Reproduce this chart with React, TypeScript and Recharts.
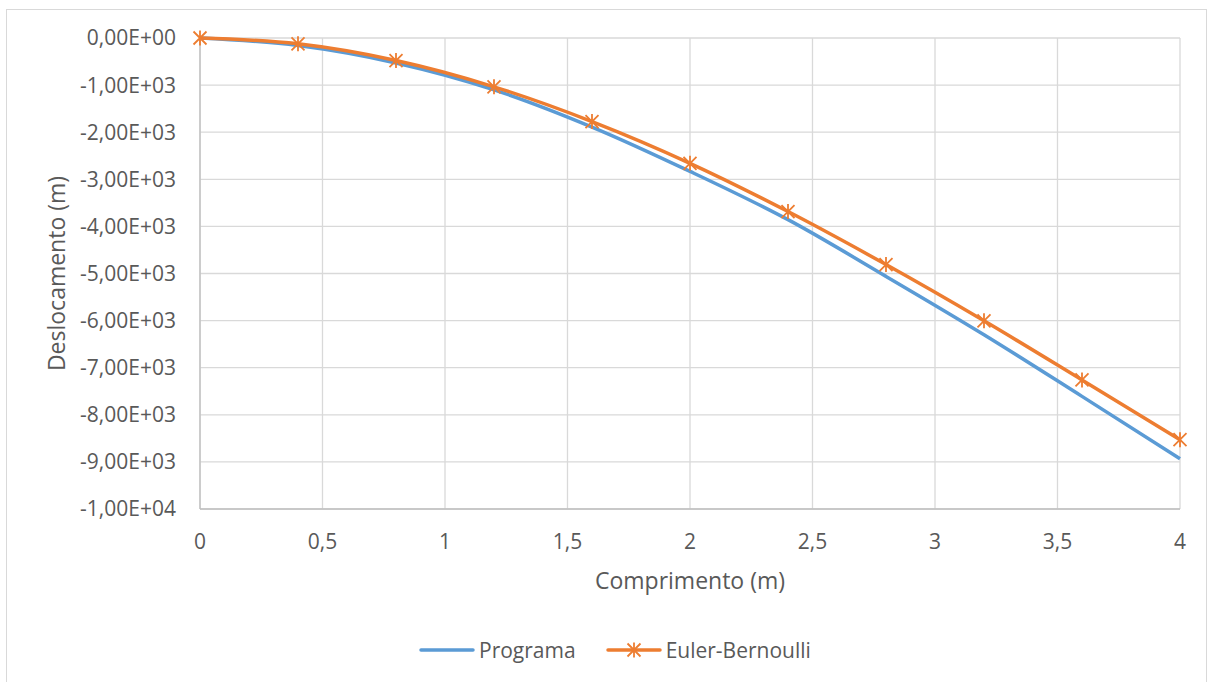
import { LineChart, Line, XAxis, YAxis, CartesianGrid } from 'recharts'

const comprimento = [0, 0.4, 0.8, 1.2, 1.6, 2.0, 2.4, 2.8, 3.2, 3.6, 4.0]
const programa = [0, -160, -530, -1100, -1890, -2832, -3857, -5061, -6300, -7609, -8932]
const eulerBernoulli = [0, -124, -478, -1036, -1774, -2660, -3685, -4810, -6004, -7260, -8529]

const xTicks = [0, 0.5, 1, 1.5, 2, 2.5, 3, 3.5, 4]
const yTicks = [0, -1000, -2000, -3000, -4000, -5000, -6000, -7000, -8000, -9000, -10000]

const BLUE = '#5B9BD5'
const ORANGE = '#ED7D31'
const TEXT = '#595959'
const FONT = '"Open Sans", sans-serif'

const data = comprimento.map((x, i) => ({
  x,
  programa: programa[i],
  euler: eulerBernoulli[i],
}))

function sciLabel(v: number) {
  const [mant, exp] = v.toExponential(2).split('e')
  const e = Number(exp)
  const sign = e < 0 ? '-' : '+'
  return `${mant.replace('.', ',')}E${sign}${String(Math.abs(e)).padStart(2, '0')}`
}

function StarDot(props: any) {
  const { cx, cy } = props
  if (cx == null || cy == null) return null
  const r = 6.5
  return (
    <path
      d={`M${cx - r},${cy - r}L${cx + r},${cy + r}M${cx + r},${cy - r}L${cx - r},${cy + r}M${cx},${cy - r - 1}L${cx},${cy + r + 1}`}
      stroke={ORANGE}
      strokeWidth={1.8}
      fill="none"
    />
  )
}

function LegendItem({ color, label, star }: { color: string; label: string; star?: boolean }) {
  return (
    <div style={{ display: 'flex', alignItems: 'center' }}>
      <svg width={56} height={16} style={{ marginRight: 4 }}>
        <line x1={2} y1={8} x2={54} y2={8} stroke={color} strokeWidth={3.5} strokeLinecap="round" />
        {star && <StarDot cx={28} cy={8} />}
      </svg>
      <span>{label}</span>
    </div>
  )
}

export default function App() {
  return (
    <div style={{ position: 'absolute', left: 0, top: 0, width: 1214, height: 682, background: '#fff', fontFamily: FONT }}>
      <div
        style={{
          position: 'absolute',
          left: 6,
          top: 9,
          width: 1201,
          height: 690,
          border: '1px solid #d9d9d9',
          boxSizing: 'border-box',
        }}
      />
      <div style={{ position: 'absolute', left: 0, top: 0 }}>
        <LineChart width={1214} height={610} data={data} margin={{ top: 38, right: 34, left: 0, bottom: 11 }}>
          <CartesianGrid stroke="#d9d9d9" strokeWidth={1.3} />
          <XAxis
            dataKey="x"
            type="number"
            domain={[0, 4]}
            ticks={xTicks}
            tickFormatter={(v: number) => String(v).replace('.', ',')}
            height={90}
            tickLine={false}
            tickSize={0}
            tickMargin={25}
            axisLine={{ stroke: '#bfbfbf', strokeWidth: 1.3 }}
            tick={{ fill: TEXT, fontSize: 21, fontFamily: FONT }}
            label={{ value: 'Comprimento (m)', position: 'insideBottom', offset: 10, fill: TEXT, fontSize: 23, fontFamily: FONT }}
          />
          <YAxis
            type="number"
            domain={[-10000, 0]}
            ticks={yTicks}
            tickFormatter={sciLabel}
            width={200}
            tickLine={false}
            tickSize={0}
            tickMargin={24}
            axisLine={{ stroke: '#bfbfbf', strokeWidth: 1.3 }}
            tick={{ fill: TEXT, fontSize: 21, fontFamily: FONT }}
            label={{ value: 'Deslocamento (m)', angle: -90, position: 'center', dx: -43, fill: TEXT, fontSize: 23, fontFamily: FONT }}
          />
          <Line
            type="monotone"
            dataKey="programa"
            stroke={BLUE}
            strokeWidth={3.5}
            dot={false}
            isAnimationActive={false}
          />
          <Line
            type="monotone"
            dataKey="euler"
            stroke={ORANGE}
            strokeWidth={3.5}
            dot={<StarDot />}
            activeDot={false}
            isAnimationActive={false}
          />
        </LineChart>
      </div>
      <div
        style={{
          position: 'absolute',
          left: 419,
          top: 636,
          display: 'flex',
          gap: 30,
          color: TEXT,
          fontSize: 21,
        }}
      >
        <LegendItem color={BLUE} label="Programa" />
        <LegendItem color={ORANGE} label="Euler-Bernoulli" star />
      </div>
    </div>
  )
}
